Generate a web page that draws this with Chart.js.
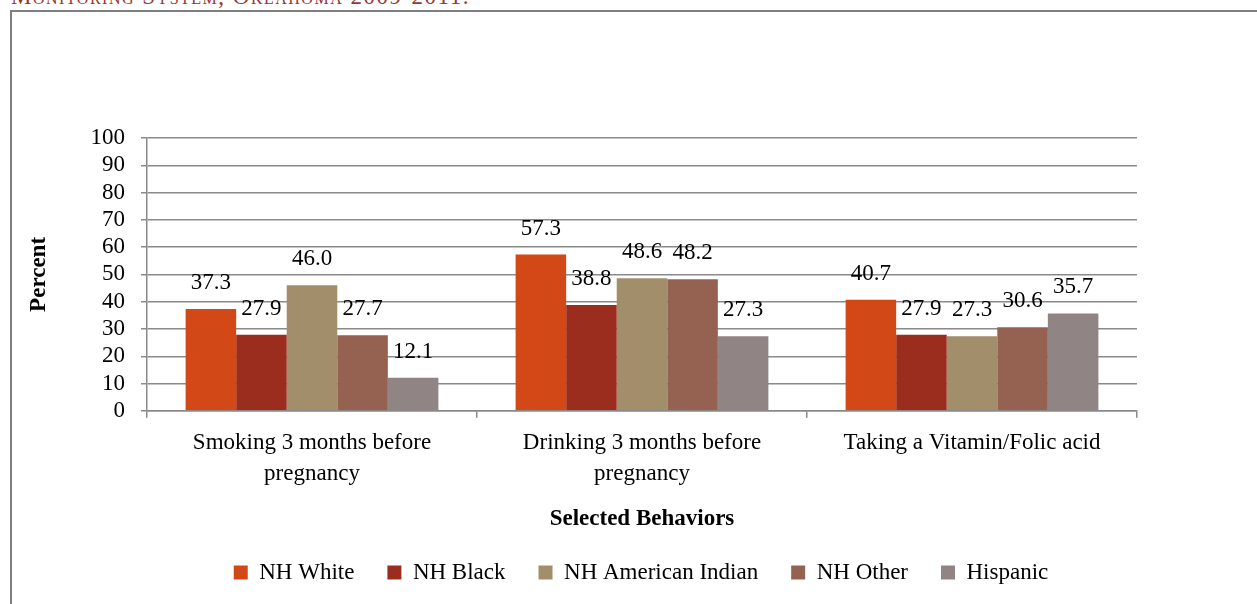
<!DOCTYPE html>
<html>
<head>
<meta charset="utf-8">
<script src="https://cdn.jsdelivr.net/npm/chart.js@4"></script>
<style>
  html, body { margin: 0; padding: 0; background: #fff; overflow: hidden; }
  #caption {
    position: absolute; left: 11px; top: -16px;
    font-family: "Liberation Serif", serif; font-size: 23px;
    font-variant: small-caps; color: #943634; letter-spacing: 1.5px;
    white-space: nowrap;
  }
  #moldura {
    position: absolute; left: 10px; top: 10px; width: 1400px; height: 800px;
    border: 2px solid #7f7f7f;
  }
  #wrap { position: absolute; left: 0; top: 0; width: 1257px; height: 604px; }
</style>
</head>
<body>
<div id="caption">Monitoring System, Oklahoma 2009-2011.</div>
<div id="moldura"></div>
<div id="wrap"><canvas id="grafico"></canvas></div>
<script>
const categorias = [
  ["Smoking 3 months before", "pregnancy"],
  ["Drinking 3 months before", "pregnancy"],
  ["Taking a Vitamin/Folic acid"]
];
const grupos = ["NH White", "NH Black", "NH American Indian", "NH Other", "Hispanic"];
const nhWhite = [37.3, 57.3, 40.7];
const nhBlack = [27.9, 38.8, 27.9];
const nhIndian = [46.0, 48.6, 27.3];
const nhOther = [27.7, 48.2, 30.6];
const hispanic = [12.1, 27.3, 35.7];
const cores = ["#D34817", "#9B2D1F", "#A28E6A", "#956251", "#918485"];
const ticksY = [0, 10, 20, 30, 40, 50, 60, 70, 80, 90, 100];

const serie = [nhWhite, nhBlack, nhIndian, nhOther, hispanic];
const fonte = "Liberation Serif";

// rotulos acima das barras
const rotulos = {
  id: 'rotulos',
  afterDatasetsDraw(chart) {
    const ctx = chart.ctx;
    ctx.save();
    ctx.font = '23px "' + fonte + '"';
    ctx.fillStyle = '#000';
    ctx.textAlign = 'center';
    ctx.textBaseline = 'middle';
    chart.data.datasets.forEach((ds, i) => {
      chart.getDatasetMeta(i).data.forEach((bar, j) => {
        ctx.fillText(ds.data[j].toFixed(1), bar.x, bar.y - 26);
      });
    });
    ctx.restore();
  }
};

const ctx = document.getElementById('grafico').getContext('2d');
const grafico = new Chart(ctx, {
  type: 'bar',
  data: {
    labels: categorias,
    datasets: grupos.map((g, i) => ({
      label: g,
      data: serie[i],
      backgroundColor: cores[i],
      borderWidth: 0,
      categoryPercentage: 0.766,
      barPercentage: 1
    }))
  },
  options: {
    responsive: true,
    maintainAspectRatio: false,
    animation: false,
    layout: { padding: { top: 138, left: 25, right: 0, bottom: 10 } },
    plugins: {
      tooltip: { enabled: false },
      legend: {
        position: 'bottom',
        labels: {
          boxWidth: 14, boxHeight: 14, padding: 33,
          color: '#000',
          font: { family: fonte, size: 23 }
        }
      }
    },
    scales: {
      y: {
        min: 0, max: 100,
        afterBuildTicks(scale) { scale.ticks = ticksY.map(v => ({ value: v })); },
        afterFit(scale) { scale.width = 122; },
        grid: { color: '#8a8a8a', lineWidth: 1.5, tickLength: 6 },
        border: { color: '#8a8a8a', width: 1.5 },
        ticks: { color: '#000', padding: 16, autoSkip: false, font: { family: fonte, size: 23 } },
        title: {
          display: true, text: 'Percent', color: '#000', padding: 0,
          font: { family: fonte, size: 23, weight: 'bold' }
        }
      },
      // espaco vazio a direita do grafico
      margem: {
        position: 'right', min: 0, max: 100,
        afterFit(scale) { scale.width = 120; },
        grid: { display: false },
        border: { display: false },
        ticks: { display: false }
      },
      x: {
        grid: { drawOnChartArea: false, color: '#8a8a8a', lineWidth: 1.5, tickLength: 7, offset: true },
        border: { color: '#8a8a8a', width: 1.5 },
        ticks: { color: '#000', padding: 9, maxRotation: 0, font: { family: fonte, size: 23, lineHeight: 1.36 } },
        title: {
          display: true, text: 'Selected Behaviors', color: '#000', padding: { top: 7, bottom: -5 },
          font: { family: fonte, size: 23, weight: 'bold' }
        }
      }
    }
  },
  plugins: [rotulos]
});
</script>
</body>
</html>
